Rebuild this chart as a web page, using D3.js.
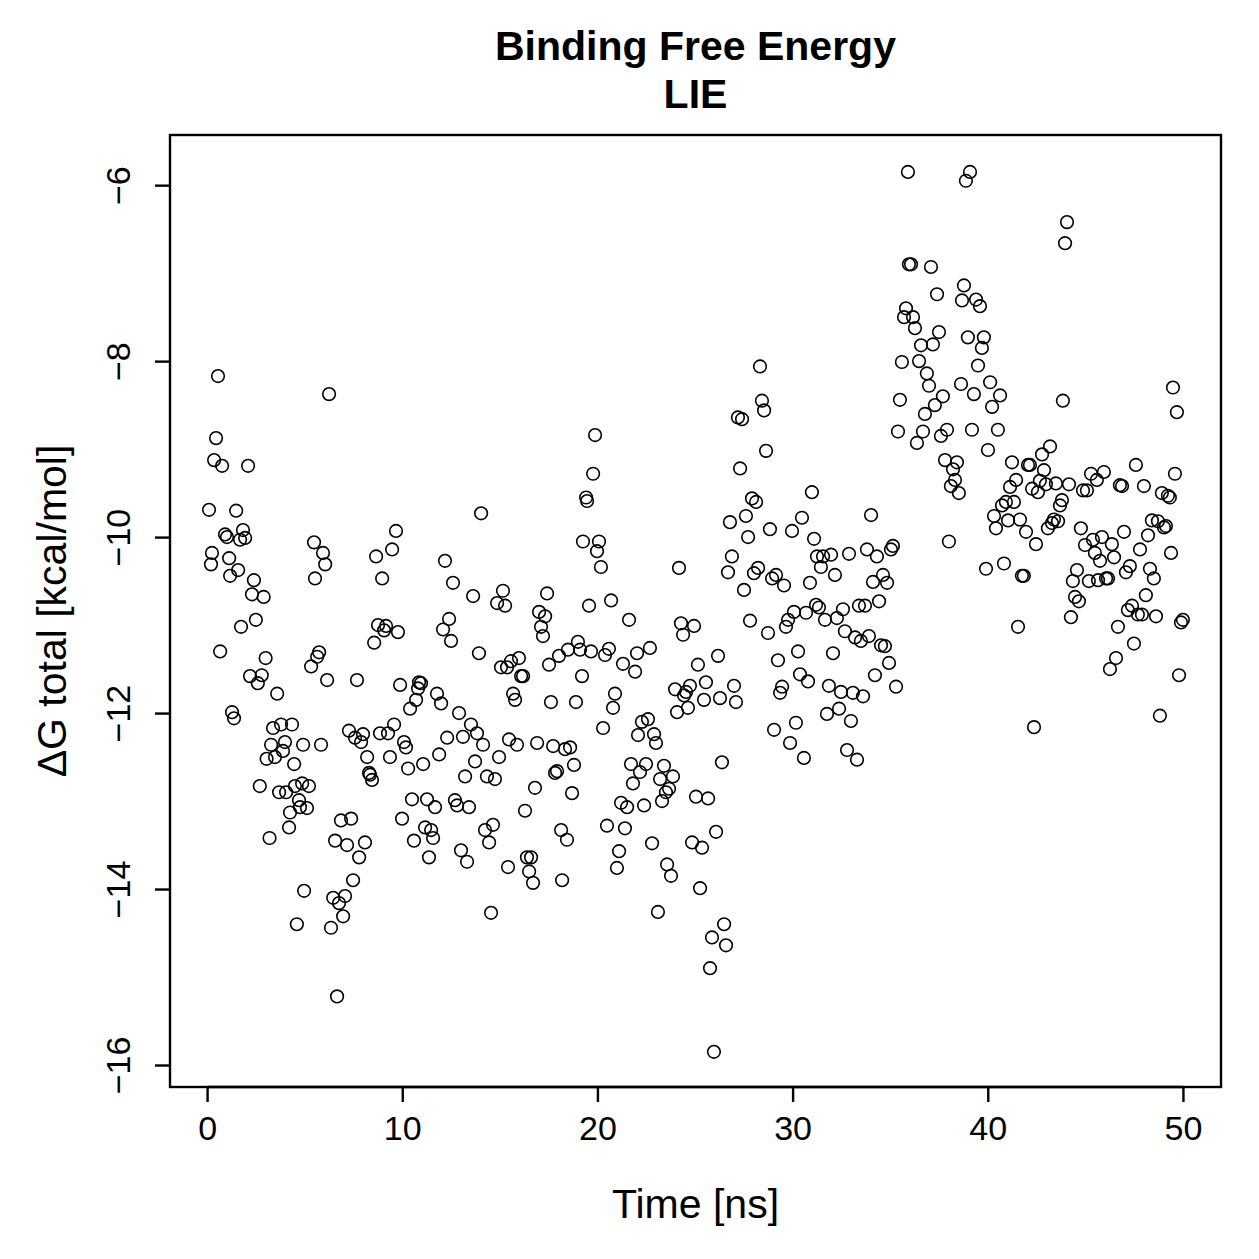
<!DOCTYPE html>
<html>
<head>
<meta charset="utf-8">
<script src="https://cdn.jsdelivr.net/npm/d3@7"></script>
<style>
  body { margin: 0; background: #fff; }
  text { font-family: "Liberation Sans", Arial, Helvetica, sans-serif; fill: #000; }
</style>
</head>
<body>
<script>
// chart values
const titleLines = ["Binding Free Energy", "LIE"];
const xLabel = "Time [ns]";
const yLabel = "\u0394G total [kcal/mol]";
const xTicks = [0, 10, 20, 30, 40, 50];
const yTicks = [-16, -14, -12, -10, -8, -6];

const time = [
  0.1, 0.2, 0.25, 0.56, 0.46, 0.36, 0.77, 0.67, 0.92, 1.02, 1.13, 1.18, 1.28, 1.38, 1.49, 1.59, 1.69, 1.74, 1.84, 1.95,
  2.1, 2.2, 2.4, 2.3, 2.5, 2.6, 2.8, 2.9, 3.0, 2.7, 3.05, 3.2, 3.28, 3.38, 3.48, 3.59, 3.69, 3.79, 3.89, 3.99,
  4.05, 4.2, 4.25, 4.35, 4.46, 4.5, 4.6, 4.71, 4.76, 4.87, 4.92, 4.97, 5.12, 5.22, 5.33, 5.48, 5.53, 5.64, 5.74, 5.84,
  5.94, 6.05, 6.15, 6.25, 6.35, 6.46, 6.56, 6.66, 6.76, 6.86, 6.97, 7.07, 7.17, 7.27, 7.38, 7.48, 7.58, 7.68, 7.79, 7.89,
  7.99, 8.09, 8.2, 8.3, 8.35, 8.45, 8.56, 8.66, 8.76, 8.86, 8.97, 9.07, 9.17, 9.27, 9.37, 9.48, 9.58, 9.68, 9.78, 9.89,
  9.99, 10.09, 10.19, 10.3, 10.4, 10.5, 10.6, 10.71, 10.81, 10.86, 10.96, 11.07, 11.17, 11.27, 11.37, 11.48, 11.58, 11.68, 11.78, 11.89,
  11.99, 12.09, 12.19, 12.3, 12.4, 12.5, 12.6, 12.7, 12.81, 12.91, 13.01, 13.11, 13.22, 13.32, 13.42, 13.52, 13.63, 13.73, 13.83, 13.93,
  14.04, 14.14, 14.24, 14.34, 14.45, 14.55, 14.65, 14.75, 14.86, 14.96, 15.06, 15.16, 15.27, 15.37, 15.42, 15.47, 15.57, 15.68, 15.78, 15.88,
  15.98, 16.09, 16.19, 16.29, 16.39, 16.5, 16.6, 16.7, 16.8, 16.91, 17.01, 17.11, 17.21, 17.32, 17.42, 17.52, 17.62, 17.73, 17.83, 17.93,
  18.03, 18.14, 18.19, 18.34, 18.44, 18.49, 18.6, 18.7, 18.8, 18.9, 19.0, 19.11, 19.21, 19.26, 19.42, 19.47, 19.57, 19.67, 19.78, 19.88,
  19.98, 20.08, 20.18, 20.29, 20.39, 20.49, 20.59, 20.7, 20.8, 20.9, 21.0, 21.11, 21.21, 21.31, 21.41, 21.52, 21.62, 21.72, 21.82, 21.93,
  22.03, 22.08, 22.18, 22.28, 22.39, 22.49, 22.59, 22.69, 22.8, 22.9, 23.0, 23.1, 23.21, 23.31, 23.41, 23.51, 23.57, 23.67, 23.77, 23.87,
  23.98, 24.08, 24.18, 24.28, 24.39, 24.44, 24.54, 24.64, 24.74, 24.85, 24.95, 25.05, 25.15, 25.26, 25.36, 25.46, 25.56, 25.67, 25.77, 25.87,
  25.97, 26.08, 26.18, 26.28, 26.38, 26.49, 26.59, 26.69, 26.79, 26.89, 27.0, 27.1, 27.2, 27.31, 27.41, 27.51, 27.61, 27.72, 27.82, 27.92,
  28.02, 28.13, 28.23, 28.33, 28.43, 28.54, 28.64, 28.74, 28.84, 28.95, 29.05, 29.15, 29.25, 29.36, 29.46, 29.56, 29.66, 29.77, 29.87, 29.97,
  30.07, 30.17, 30.28, 30.38, 30.48, 30.58, 30.69, 30.79, 30.89, 30.99, 31.1, 31.2, 31.25, 31.35, 31.45, 31.56, 31.66, 31.76, 31.86, 31.97,
  32.07, 32.17, 32.27, 32.38, 32.48, 32.58, 32.68, 32.79, 32.89, 32.99, 33.09, 33.2, 33.3, 33.4, 33.5, 33.61, 33.71, 33.81, 33.91, 34.02,
  34.12, 34.22, 34.32, 34.43, 34.53, 34.63, 34.73, 34.84, 34.94, 35.04, 35.14, 35.3, 35.4, 35.5, 35.6, 35.71, 35.81, 35.91, 35.96, 36.07,
  36.17, 36.27, 36.37, 36.48, 36.58, 36.68, 36.78, 36.88, 36.99, 37.09, 37.19, 37.29, 37.4, 37.5, 37.6, 37.7, 37.81, 37.91, 38.01, 38.11,
  38.22, 38.32, 38.42, 38.52, 38.63, 38.68, 38.78, 38.88, 38.98, 39.09, 39.19, 39.29, 39.4, 39.5, 39.6, 39.7, 39.8, 39.91, 40.01, 40.12,
  40.22, 40.32, 40.42, 40.52, 40.63, 40.73, 40.83, 40.93, 41.04, 41.14, 41.24, 41.34, 41.45, 41.55, 41.65, 41.75, 41.85, 41.96, 42.06, 42.16,
  42.27, 42.37, 42.47, 42.57, 42.67, 42.78, 42.88, 42.98, 43.08, 43.19, 43.29, 43.39, 43.49, 43.6, 43.7, 43.8, 43.85, 43.96, 44.06, 44.16,
  44.26, 44.36, 44.47, 44.57, 44.67, 44.77, 44.88, 44.98, 45.08, 45.18, 45.29, 45.39, 45.49, 45.59, 45.65, 45.75, 45.85, 45.95, 46.06, 46.16,
  46.26, 46.36, 46.47, 46.57, 46.67, 46.77, 46.88, 46.98, 47.08, 47.18, 47.28, 47.39, 47.49, 47.59, 47.69, 47.8, 47.9, 48.0, 48.1, 48.21,
  48.31, 48.41, 48.51, 48.62, 48.72, 48.82, 48.92, 49.03, 49.13, 49.23, 49.33, 49.39, 49.49, 49.59, 49.69, 49.8, 49.9, 50.0
];

const dG = [
  -9.69, -10.31, -10.18, -8.17, -8.875, -9.125, -9.19, -11.3, -9.97, -10.0, -10.24, -10.44, -11.99, -12.06, -9.70, -10.375, -10.03, -11.02, -9.92, -10.01,
  -9.19, -11.58, -10.49, -10.65, -10.94, -11.66, -11.57, -10.68, -11.375, -12.83, -12.52, -13.42, -12.36, -12.17, -12.5, -11.78, -12.9, -12.13, -12.43, -12.33,
  -12.9, -13.3, -13.13, -12.13, -12.58, -12.83, -14.4, -12.99, -13.07, -12.8, -12.36, -14.02, -13.08, -12.83, -11.47, -10.06, -10.47, -11.36, -11.31, -12.36,
  -10.18, -10.31, -11.625, -8.375, -14.44, -14.1, -13.45, -15.22, -14.16, -13.22, -14.31, -14.08, -13.5, -12.2, -13.2, -13.9, -12.28, -11.625, -13.64, -12.33,
  -12.24, -13.47, -12.5, -12.68, -12.7, -12.76, -11.2, -10.22, -11.0, -12.23, -10.47, -11.06, -11.01, -12.23, -12.5, -10.14, -12.13, -9.93, -11.08, -11.68,
  -13.2, -12.33, -12.39, -12.63, -11.95, -12.98, -13.45, -11.85, -11.72, -11.65, -11.66, -12.58, -13.3, -12.98, -13.64, -13.33, -13.42, -13.07, -11.78, -12.47,
  -11.89, -11.05, -10.27, -12.28, -10.93, -11.18, -10.52, -12.99, -13.05, -12.0, -13.56, -12.27, -12.72, -13.69, -13.07, -12.13, -10.67, -12.55, -12.23, -11.32,
  -9.73, -12.36, -13.33, -12.72, -13.47, -14.27, -13.27, -12.75, -10.75, -12.5, -11.48, -10.61, -10.78, -11.48, -13.75, -12.3, -11.41, -11.78, -11.85, -12.36,
  -11.375, -11.58, -11.58, -13.11, -13.64, -13.8, -13.64, -13.93, -12.85, -12.34, -10.85, -11.02, -11.125, -10.9, -10.64, -11.45, -11.875, -12.375, -12.68, -12.66,
  -11.35, -13.33, -13.9, -12.41, -13.44, -11.28, -12.39, -12.91, -12.59, -11.875, -11.19, -11.28, -11.58, -10.05, -9.55, -9.59, -10.78, -11.3, -9.28, -8.84,
  -10.16, -10.05, -10.34, -12.17, -11.34, -13.28, -11.27, -10.72, -11.94, -11.78, -13.76, -13.57, -13.02, -11.44, -13.31, -13.07, -10.94, -12.58, -12.8, -11.53,
  -11.32, -12.25, -12.67, -12.1, -13.05, -12.58, -12.07, -11.26, -13.48, -12.24, -12.34, -14.26, -12.75, -13.0, -12.6, -12.9, -13.72, -12.86, -13.85, -12.72,
  -11.73, -11.99, -10.35, -10.98, -11.11, -11.8, -11.76, -11.94, -11.69, -13.47, -11.01, -12.95, -11.45, -13.99, -13.53, -11.85, -11.65, -12.97, -14.9, -14.55,
  -15.85, -13.35, -11.35, -11.83, -12.56, -14.4, -14.64, -10.4, -9.83, -10.22, -11.69, -11.875, -8.64, -9.22, -8.66, -10.6, -9.76, -10.0, -10.95, -9.56,
  -10.41, -9.6, -10.35, -8.06, -8.45, -8.56, -9.02, -11.09, -9.91, -10.47, -12.19, -10.43, -11.4, -11.77, -11.7, -10.55, -11.02, -10.94, -12.34, -9.93,
  -10.85, -12.11, -11.3, -11.56, -9.78, -12.51, -10.86, -11.64, -10.52, -9.49, -10.02, -10.77, -10.22, -10.8, -10.34, -10.22, -10.94, -12.01, -11.69, -10.2,
  -11.32, -10.43, -10.92, -11.95, -11.76, -10.82, -11.07, -12.42, -10.19, -12.09, -11.77, -11.14, -12.53, -10.78, -11.18, -11.81, -10.78, -10.14, -11.125, -9.75,
  -10.51, -11.57, -10.22, -10.73, -11.23, -10.43, -11.24, -10.52, -11.43, -10.14, -10.1, -11.7, -8.8, -8.44, -8.01, -7.5, -7.4, -5.85, -6.9, -6.9,
  -7.5, -7.625, -8.93, -8.0, -7.82, -8.8, -8.6, -8.14, -8.28, -6.93, -7.81, -8.5, -7.24, -7.67, -8.85, -8.4, -9.125, -8.78, -10.05, -9.42,
  -9.23, -9.35, -9.15, -9.5, -8.26, -7.31, -7.14, -5.95, -7.73, -5.85, -8.78, -8.375, -7.3, -8.05, -7.375, -7.85, -7.73, -10.36, -9.01, -8.24,
  -8.52, -9.76, -9.9, -8.78, -8.39, -9.64, -10.3, -9.6, -9.81, -9.43, -9.15, -9.6, -9.35, -11.02, -9.8, -10.44, -10.44, -9.94, -9.18, -9.18,
  -9.45, -12.16, -10.08, -9.49, -9.36, -9.06, -9.24, -9.4, -9.9, -8.97, -9.84, -9.8, -9.39, -9.82, -9.64, -9.58, -8.45, -6.66, -6.42, -9.4,
  -10.91, -10.5, -10.68, -10.375, -10.73, -9.9, -9.47, -10.09, -9.47, -10.5, -9.28, -10.03, -10.18, -9.35, -10.49, -10.27, -10.0, -9.26, -10.47, -10.47,
  -11.5, -10.08, -10.23, -11.375, -11.02, -9.41, -9.42, -9.94, -10.4, -10.83, -10.33, -10.78, -11.21, -9.18, -10.88, -10.14, -10.88, -9.42, -10.66, -9.98,
  -10.36, -9.81, -10.47, -10.9, -9.82, -12.03, -9.5, -9.89, -9.875, -9.53, -9.55, -10.18, -8.3, -9.28, -8.58, -11.57, -10.97, -10.94
];

const W = 1259, H = 1259;
const box = { left: 170, right: 1221, top: 135, bottom: 1087 };

const svg = d3.select("body").append("svg")
    .attr("width", W)
    .attr("height", H);

svg.append("rect")
    .attr("width", W)
    .attr("height", H)
    .attr("fill", "#fff");

const x = d3.scaleLinear().domain([-1.9, 51.95]).range([box.left, box.right]);
const y = d3.scaleLinear().domain([-16.25, -5.43]).range([box.bottom, box.top]);

// points
const pts = time.map((t, i) => ({ t: t, v: dG[i] }));
svg.append("g")
  .selectAll("circle")
  .data(pts)
  .join("circle")
    .attr("cx", d => x(d.t))
    .attr("cy", d => y(d.v))
    .attr("r", 6.3)
    .attr("fill", "none")
    .attr("stroke", "#000")
    .attr("stroke-width", 1.6);

// bottom axis (R style: line spans first to last tick)
const xAxis = d3.axisBottom(x)
    .tickValues(xTicks)
    .tickSize(15)
    .tickPadding(14)
    .tickFormat(d3.format("d"));

const gx = svg.append("g")
    .attr("transform", `translate(0,${box.bottom})`)
    .call(xAxis);
gx.select(".domain").remove();
gx.append("line")
    .attr("x1", x(xTicks[0])).attr("x2", x(xTicks[xTicks.length - 1]))
    .attr("stroke", "#000").attr("stroke-width", 2.4);
gx.selectAll(".tick line").attr("stroke-width", 2.4);
gx.selectAll(".tick text")
    .style("font-size", "34px")
    .attr("font-family", null);

// left axis, labels turned parallel to the axis
const yAxis = d3.axisLeft(y)
    .tickValues(yTicks)
    .tickSize(15)
    .tickFormat(d3.format("d"));

const gy = svg.append("g")
    .attr("transform", `translate(${box.left},0)`)
    .call(yAxis);
gy.select(".domain").remove();
gy.selectAll(".tick line").attr("stroke-width", 2.4);
gy.selectAll(".tick text")
    .attr("x", null)
    .attr("dy", null)
    .attr("transform", "translate(-40,0) rotate(-90)")
    .attr("text-anchor", "middle")
    .style("font-size", "34px");

// plot frame
svg.append("rect")
    .attr("x", box.left)
    .attr("y", box.top)
    .attr("width", box.right - box.left)
    .attr("height", box.bottom - box.top)
    .attr("fill", "none")
    .attr("stroke", "#000")
    .attr("stroke-width", 2.4);

// titles
const cx = (box.left + box.right) / 2;
svg.append("text")
    .attr("x", cx).attr("y", 60)
    .attr("text-anchor", "middle")
    .style("font-size", "41px")
    .style("font-weight", "bold")
    .text(titleLines[0]);
svg.append("text")
    .attr("x", cx).attr("y", 108)
    .attr("text-anchor", "middle")
    .style("font-size", "41px")
    .style("font-weight", "bold")
    .text(titleLines[1]);

svg.append("text")
    .attr("x", cx).attr("y", 1218)
    .attr("text-anchor", "middle")
    .style("font-size", "41px")
    .text(xLabel);

svg.append("text")
    .attr("transform", `translate(66,${(box.top + box.bottom) / 2}) rotate(-90)`)
    .attr("text-anchor", "middle")
    .style("font-size", "41px")
    .text(yLabel);
</script>
</body>
</html>
